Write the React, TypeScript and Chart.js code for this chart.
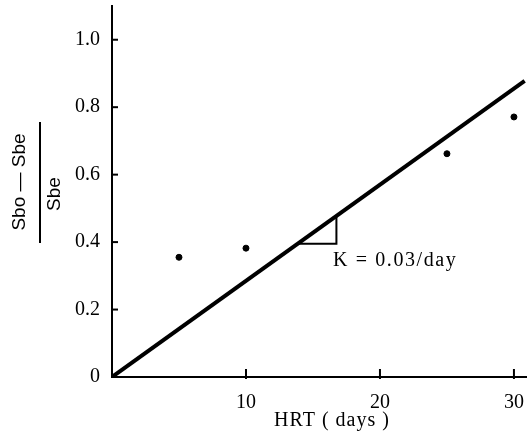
import { useEffect, useRef } from 'react';
import { Chart, registerables } from 'chart.js';

Chart.register(...registerables);

const hrtDays = [5, 10, 25, 30];
const ratioValues = [0.355, 0.382, 0.662, 0.771];
const fitLineX = [0, 30.8];
const fitLineY = [0, 0.878];
const slopeTriangleX = [13.85, 16.75, 16.75];
const slopeTriangleY = [0.395, 0.395, 0.478];
const xTickValues = [10, 20, 30];
const xTickLabels = ['10', '20', '30'];
const yTickValues = [0, 0.2, 0.4, 0.6, 0.8, 1.0];
const yTickLabels = ['0', '0.2', '0.4', '0.6', '0.8', '1.0'];
const xTitle = 'HRT ( days )';
const yNumerator = 'Sbo — Sbe';
const yDenominator = 'Sbe';
const slopeLabel = 'K = 0.03/day';
const slopeLabelAnchor = { x: 16.5, y: 0.33 };

const SERIF = '"Liberation Serif", "DejaVu Serif", serif';
const SANS = '"Liberation Sans", Arial, sans-serif';

const annotationPlugin = {
  id: 'annotations',
  afterDraw(chart: any) {
    const { ctx, chartArea } = chart;
    const xs = chart.scales.x;
    const ys = chart.scales.y;
    ctx.save();
    ctx.strokeStyle = '#000';
    ctx.lineWidth = 2;
    // inward tick marks
    yTickValues.forEach((v) => {
      if (v === 0) return;
      const py = ys.getPixelForValue(v);
      ctx.beginPath();
      ctx.moveTo(chartArea.left, py);
      ctx.lineTo(chartArea.left + 6, py);
      ctx.stroke();
    });
    xTickValues.forEach((v) => {
      const px = xs.getPixelForValue(v);
      ctx.beginPath();
      ctx.moveTo(px, chartArea.bottom + 2);
      ctx.lineTo(px, chartArea.bottom - 8);
      ctx.stroke();
    });

    ctx.fillStyle = '#000';
    // x title
    ctx.font = `20px ${SERIF}`;
    ctx.textAlign = 'center';
    ctx.textBaseline = 'alphabetic';
    (ctx as any).letterSpacing = '1px';
    ctx.fillText(xTitle, 332, 426);

    // slope label
    ctx.textAlign = 'left';
    (ctx as any).letterSpacing = '1.6px';
    ctx.fillText(slopeLabel, xs.getPixelForValue(slopeLabelAnchor.x), ys.getPixelForValue(slopeLabelAnchor.y));
    (ctx as any).letterSpacing = '0px';

    // y title as a fraction
    ctx.font = `19px ${SANS}`;
    ctx.textAlign = 'center';
    ctx.textBaseline = 'middle';
    ctx.save();
    ctx.translate(20, 182);
    ctx.rotate(-Math.PI / 2);
    ctx.fillText(yNumerator, 0, 0);
    ctx.restore();
    ctx.save();
    ctx.translate(55, 194);
    ctx.rotate(-Math.PI / 2);
    ctx.fillText(yDenominator, 0, 0);
    ctx.restore();
    ctx.lineWidth = 2;
    ctx.beginPath();
    ctx.moveTo(40, 122);
    ctx.lineTo(40, 243);
    ctx.stroke();
    ctx.restore();
  },
};

export default function App() {
  const canvasRef = useRef<HTMLCanvasElement | null>(null);

  useEffect(() => {
    if (!canvasRef.current) return;
    const chart = new Chart(canvasRef.current, {
      type: 'scatter',
      data: {
        datasets: [
          {
            type: 'scatter',
            data: hrtDays.map((x, i) => ({ x, y: ratioValues[i] })),
            backgroundColor: '#000',
            borderColor: '#000',
            pointRadius: 3,
            pointHoverRadius: 3,
          },
          {
            type: 'line',
            data: fitLineX.map((x, i) => ({ x, y: fitLineY[i] })),
            borderColor: '#000',
            borderWidth: 4,
            pointRadius: 0,
            fill: false,
          },
          {
            type: 'line',
            data: slopeTriangleX.map((x, i) => ({ x, y: slopeTriangleY[i] })),
            borderColor: '#000',
            borderWidth: 2,
            pointRadius: 0,
            fill: false,
          },
        ],
      },
      options: {
        responsive: false,
        animation: false,
        layout: { padding: { top: 6, left: 0, right: 0, bottom: 0 } },
        plugins: { legend: { display: false }, tooltip: { enabled: false } },
        scales: {
          x: {
            type: 'linear',
            min: 0,
            max: 30.9,
            grid: { display: false },
            border: { display: true, color: '#000', width: 2 },
            afterBuildTicks: (s: any) => {
              s.ticks = xTickValues.map((v) => ({ value: v }));
            },
            afterFit: (s: any) => {
              s.height = 59;
              s.paddingLeft = 0;
              s.paddingRight = 0;
            },
            ticks: {
              padding: 6,
              color: '#000',
              font: { family: SERIF, size: 20 },
              maxRotation: 0,
              callback: (_v: any, i: number) => xTickLabels[i],
            },
          },
          y: {
            type: 'linear',
            min: 0,
            max: 1.1,
            grid: { display: false },
            border: { display: true, color: '#000', width: 2 },
            afterBuildTicks: (s: any) => {
              s.ticks = yTickValues.map((v) => ({ value: v }));
            },
            afterFit: (s: any) => {
              s.width = 112;
              s.paddingTop = 0;
              s.paddingBottom = 0;
            },
            ticks: {
              padding: 4,
              color: '#000',
              font: { family: SERIF, size: 20 },
              callback: (_v: any, i: number) => yTickLabels[i],
            },
          },
        },
      },
      plugins: [annotationPlugin],
    });
    return () => chart.destroy();
  }, []);

  return (
    <div style={{ position: 'absolute', left: 0, top: 0, width: 530, height: 436, background: '#fff' }}>
      <canvas ref={canvasRef} width={530} height={436} />
    </div>
  );
}
